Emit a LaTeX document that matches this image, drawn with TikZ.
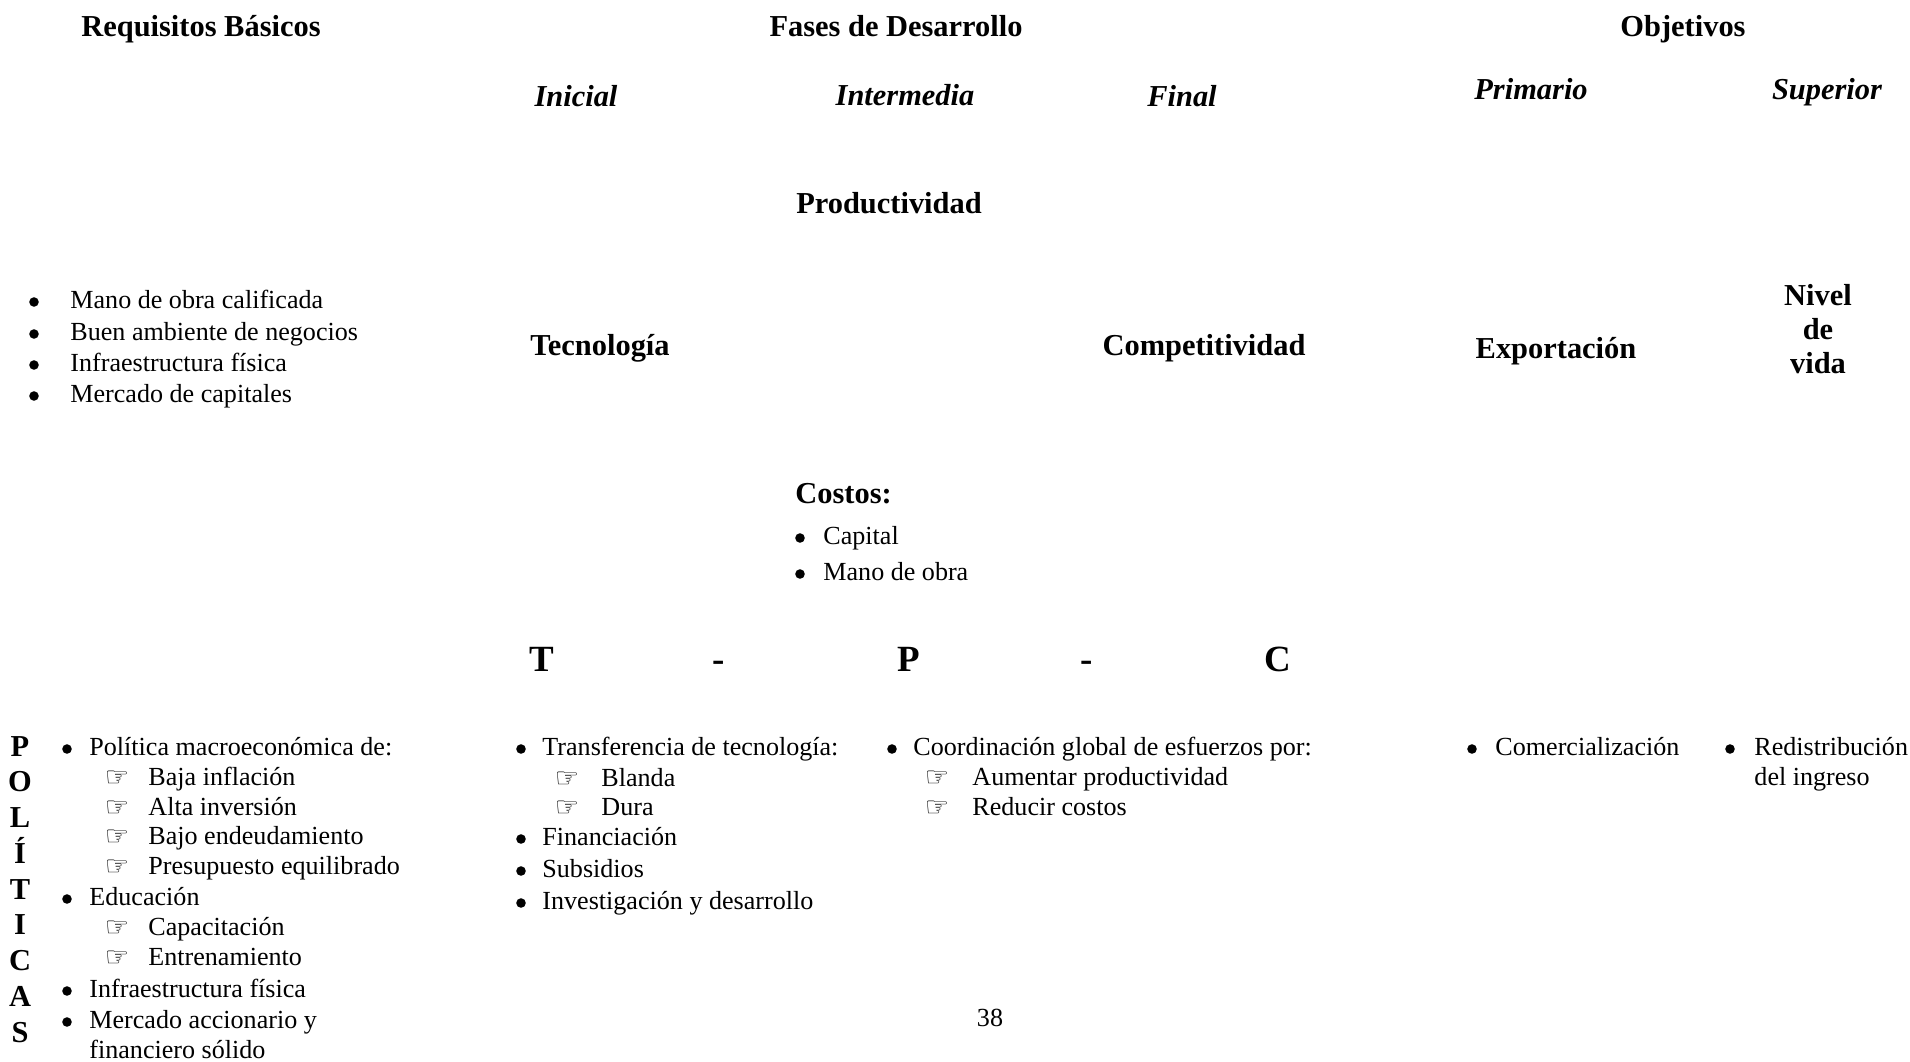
\documentclass[tikz,border=0pt]{standalone}
\usepackage{fontspec}
\setmainfont{Liberation Serif}
\newfontfamily\handfont{DejaVu Sans}
\begin{document}
\begin{tikzpicture}[x=0.46pt,y=-0.46pt,
  base/.style={inner sep=0pt, text height=0.66em, text depth=0pt},
  txt/.style={base, anchor=west, font=\fontsize{12}{14}\selectfont},
  bul/.style={circle, fill=black, inner sep=0pt, minimum size=4.4pt},
  num/.style={base, anchor=center, font=\fontsize{12}{14}\selectfont},
  hand/.style={inner sep=0pt, anchor=base, text height=0.45em, text depth=0pt, font=\handfont\fontsize{12.5}{14}\selectfont},
  hdr/.style={base, anchor=center, font=\fontsize{14}{16}\selectfont\bfseries},
  hdrw/.style={base, anchor=west, font=\fontsize{14}{16}\selectfont\bfseries},
  phase/.style={base, anchor=center, font=\fontsize{14}{16}\selectfont\bfseries\itshape},
  tpc/.style={base, anchor=center, font=\fontsize{17}{20}\selectfont\bfseries},
  vert/.style={base, anchor=center, font=\fontsize{14}{16}\selectfont\bfseries}]
\useasboundingbox (0,0) rectangle (1910,1062);
\fill[white] (0,0) rectangle (1910,1062);

% headers
\node[hdr] (reqs) at (201,29) {Requisitos Básicos};
\node[hdr] (fases) at (896,29) {Fases de Desarrollo};
\node[hdr] (objs) at (1683,29) {Objetivos};
\node[phase] (ini) at (576,99) {Inicial};
\node[phase] (inter) at (905,98) {Intermedia};
\node[phase] (fin) at (1182,99) {Final};
\node[phase] (prim) at (1531,92) {Primario};
\node[phase] (sup) at (1827,92) {Superior};

% top-left list
\foreach \y/\t [count=\i] in {301/Mano de obra calificada, 333/Buen ambiente de negocios, 364/Infraestructura física, 395/Mercado de capitales}{
  \node[bul] (rb\i) at (34,\y+1) {};
  \node[txt] (rt\i) at (70,\y) {\t};
}

% central terms
\node[hdr] (prod) at (889,206) {Productividad};
\node[hdr] (tec) at (600,348) {Tecnología};
\node[hdr] (comp) at (1204,348) {Competitividad};
\node[hdr] (exp) at (1556,351) {Exportación};
\node[hdr] (niv1) at (1818,298) {Nivel};
\node[hdr] (niv2) at (1818,332) {de};
\node[hdr] (niv3) at (1818,366) {vida};

\node[hdrw] (cost) at (795,496) {Costos:};
\node[bul] (cb1) at (800,538) {};
\node[txt] (ct1) at (823,537) {Capital};
\node[bul] (cb2) at (800,574) {};
\node[txt] (ct2) at (823,573) {Mano de obra};

% T - P - C
\node[tpc] (T) at (542,664) {T};
\node[tpc] (d1) at (719,664) {-};
\node[tpc] (P) at (909,664) {P};
\node[tpc] (d2) at (1087,664) {-};
\node[tpc] (C) at (1278,664) {C};

% POLITICAS
\foreach \l [count=\i] in {P,O,L,Í,T,I,C,A,S}{
  \node[vert] (pol\i) at (20,{749+35.75*(\i-1)}) {\l};
}

% list 1
\node[bul] (a1b) at (67,749) {};
\node[txt] (a1) at (89,748) {Política macroeconómica de:};
\node[hand] (a1hb) at (117,786.6) {☞};
\node[txt] (a1h) at (148,778) {Baja inflación};
\node[hand] (a1ib) at (117,816.6) {☞};
\node[txt] (a1i) at (148,808) {Alta inversión};
\node[hand] (a1jb) at (117,845.6) {☞};
\node[txt] (a1j) at (148,837) {Bajo endeudamiento};
\node[hand] (a1kb) at (117,875.6) {☞};
\node[txt] (a1k) at (148,867) {Presupuesto equilibrado};
\node[bul] (a2b) at (67,899) {};
\node[txt] (a2) at (89,898) {Educación};
\node[hand] (a2hb) at (117,936.6) {☞};
\node[txt] (a2h) at (148,928) {Capacitación};
\node[hand] (a2ib) at (117,966.6) {☞};
\node[txt] (a2i) at (148,958) {Entrenamiento};
\node[bul] (a3b) at (67,991) {};
\node[txt] (a3) at (89,990) {Infraestructura física};
\node[bul] (a4b) at (67,1022) {};
\node[txt] (a4) at (89,1021) {Mercado accionario y};
\node[txt] (a4c) at (89,1051) {financiero sólido};

% list 2
\node[bul] (b1b) at (521,749) {};
\node[txt] (b1) at (542,748) {Transferencia de tecnología:};
\node[hand] (b1hb) at (567,787.6) {☞};
\node[txt] (b1h) at (601,779) {Blanda};
\node[hand] (b1ib) at (567,816.6) {☞};
\node[txt] (b1i) at (601,808) {Dura};
\node[bul] (b2b) at (521,839) {};
\node[txt] (b2) at (542,838) {Financiación};
\node[bul] (b3b) at (521,871) {};
\node[txt] (b3) at (542,870) {Subsidios};
\node[bul] (b4b) at (521,903) {};
\node[txt] (b4) at (542,902) {Investigación y desarrollo};

% list 3
\node[bul] (c1b) at (892,749) {};
\node[txt] (c1) at (913,748) {Coordinación global de esfuerzos por:};
\node[hand] (c1hb) at (937,786.6) {☞};
\node[txt] (c1h) at (972,778) {Aumentar productividad};
\node[hand] (c1ib) at (937,816.6) {☞};
\node[txt] (c1i) at (972,808) {Reducir costos};

% list 4, 5
\node[bul] (d1b) at (1472,749) {};
\node[txt] (dd1) at (1495,748) {Comercialización};
\node[bul] (e1b) at (1730,749) {};
\node[txt] (e1) at (1754,748) {Redistribución};
\node[txt] (e1c) at (1754,778) {del ingreso};

% page number
\node[num] (pg) at (990,1019) {38};
\end{tikzpicture}
\end{document}
